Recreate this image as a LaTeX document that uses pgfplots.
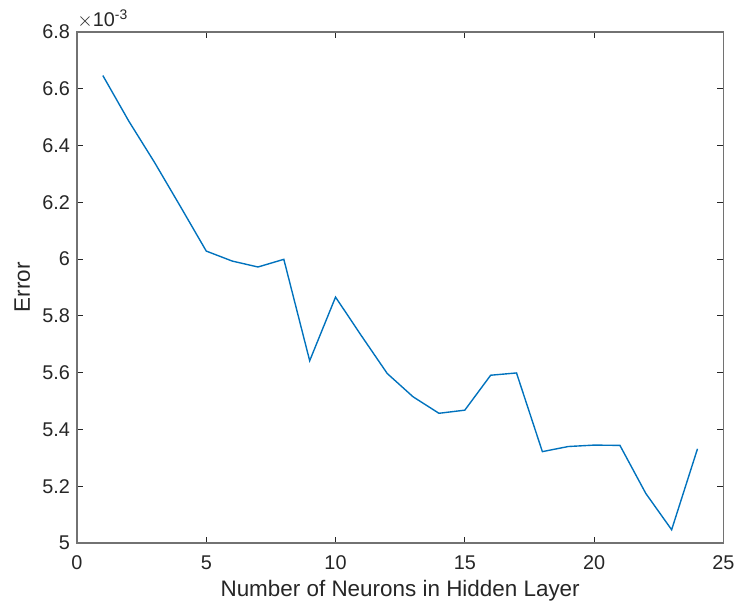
\documentclass[border={4pt 2pt 0pt 5pt}]{standalone}
\usepackage{fontspec}
\setmainfont{Liberation Sans}
\usepackage{pgfplots}
\pgfplotsset{compat=1.18}
\definecolor{axgray}{RGB}{38,38,38}
\definecolor{mblue}{RGB}{0,114,189}
\begin{document}
\begin{tikzpicture}
\begin{axis}[
    scale only axis,
    width=325.5pt, height=257.5pt,
    xmin=0, xmax=25,
    ymin=5e-3, ymax=6.8e-3,
    xtick={0,5,10,15,20,25},
    ytick={5e-3,5.2e-3,5.4e-3,5.6e-3,5.8e-3,6e-3,6.2e-3,6.4e-3,6.6e-3,6.8e-3},
    scaled y ticks=base 10:3,
    ytick scale label code/.code={$\times$10\textsuperscript{#1}},
    every y tick scale label/.style={at={(rel axis cs:0,1)}, anchor=base west, inner sep=0pt, xshift=0pt, yshift=2.5pt, font=\fontsize{10}{11}\selectfont, text=axgray},
    /pgf/number format/assume math mode=true,
    y tick label style={/pgf/number format/.cd, fixed, precision=1, /tikz/.cd},
    x tick label style={yshift=-3pt},
    tick align=inside,
    major tick length=3pt,
    axis line style={axgray!65, line width=0.8pt},
    every tick/.style={axgray, line width=0.5pt},
    tick label style={font=\fontsize{10}{11}\selectfont, text=axgray},
    label style={font=\fontsize{11.3}{13}\selectfont, text=axgray},
    xlabel={Number of Neurons in Hidden Layer},
    ylabel={Error},
    xlabel style={at={(axis description cs:0.5,-0.0932)}, anchor=center},
    ylabel style={at={(axis description cs:-0.0845,0.5)}, anchor=center},
]
\addplot[mblue, line width=0.7pt] coordinates {
  (1,6.646e-3) (2,6.486e-3) (3,6.340e-3) (4,6.185e-3) (5,6.028e-3)
  (6,5.993e-3) (7,5.972e-3) (8,5.999e-3) (9,5.642e-3) (10,5.866e-3)
  (11,5.730e-3) (12,5.597e-3) (13,5.515e-3) (14,5.457e-3) (15,5.468e-3)
  (16,5.591e-3) (17,5.599e-3) (18,5.322e-3) (19,5.340e-3) (20,5.345e-3)
  (21,5.344e-3) (22,5.175e-3) (23,5.047e-3) (24,5.332e-3)
};
\end{axis}
\end{tikzpicture}
\end{document}
